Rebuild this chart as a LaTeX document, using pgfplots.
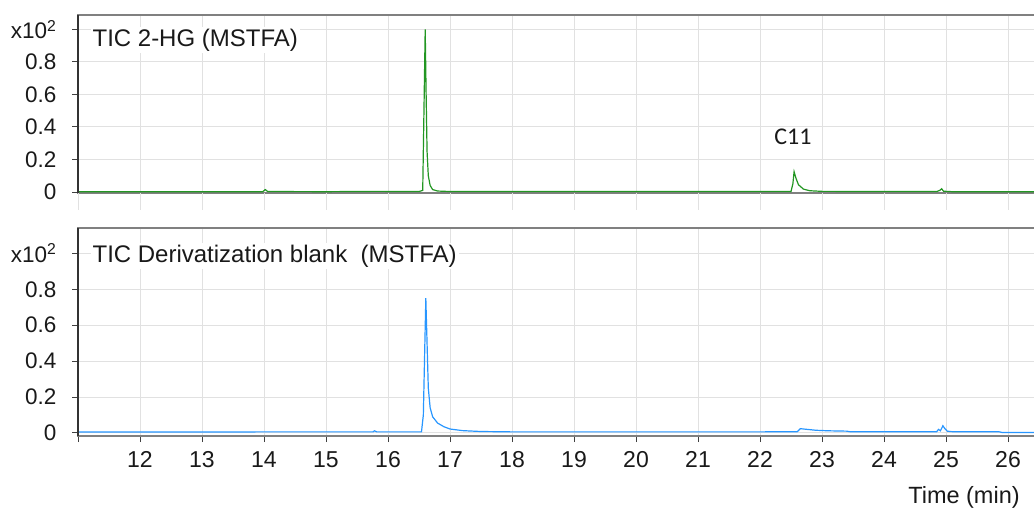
\documentclass[border=0pt]{standalone}
\usepackage{pgfplots}
\pgfplotsset{compat=1.18}
\usepackage{fontspec}
\setmainfont{Liberation Sans}
\newfontfamily\calib{Carlito}
\definecolor{tgreen}{RGB}{34,150,34}
\definecolor{tblue}{RGB}{40,150,255}
\definecolor{gridc}{RGB}{225,225,225}
\definecolor{framec}{RGB}{128,128,128}

\pgfplotstableread{
x y
11.00 0.002
12.00 0.002
13.00 0.002
13.98 0.002
14.02 0.015
14.06 0.003
15.00 0.002
15.80 0.004
16.50 0.003
16.56 0.010
16.58 0.500
16.60 1.000
16.615 0.600
16.63 0.250
16.65 0.100
16.68 0.040
16.72 0.015
16.80 0.006
17.00 0.003
18.00 0.003
20.00 0.003
22.00 0.003
22.50 0.003
22.53 0.050
22.55 0.125
22.58 0.085
22.62 0.045
22.70 0.018
22.80 0.008
23.00 0.004
24.00 0.003
24.85 0.003
24.90 0.010
24.93 0.020
24.96 0.005
25.10 0.002
26.50 0.002
}\greendata

\pgfplotstableread{
x y
11.00 0.005
12.00 0.005
13.00 0.005
14.00 0.006
15.00 0.006
15.76 0.006
15.78 0.012
15.82 0.006
16.54 0.006
16.57 0.100
16.61 0.750
16.63 0.500
16.65 0.250
16.68 0.140
16.72 0.090
16.80 0.055
16.90 0.035
17.00 0.022
17.20 0.013
17.50 0.008
18.00 0.006
20.00 0.006
22.00 0.006
22.60 0.007
22.65 0.024
22.70 0.022
22.90 0.015
23.10 0.012
23.40 0.010
23.45 0.007
24.85 0.007
24.88 0.020
24.91 0.012
24.95 0.040
24.98 0.025
25.02 0.010
25.10 0.007
25.85 0.007
25.90 0.003
26.50 0.003
}\bluedata

\begin{document}
\begin{tikzpicture}
\clip (0bp,0bp) rectangle (1034bp,-509bp);
\pgfplotsset{
  every axis/.style={
    scale only axis,
    width=961bp,
    xmin=11, xmax=26.5,
    xtick={11,...,26},
    grid=major,
    major grid style={draw=gridc, line width=1bp},
    axis line style={draw=framec, line width=2bp},
    tick align=outside,
    xtick pos=left, ytick pos=left,
    ytick={0,0.2,0.4,0.6,0.8,1.0},
    yticklabels={0,0.2,0.4,0.6,0.8,x10\textsuperscript{2}},
    yticklabel style={font=\fontsize{22.5bp}{24bp}\selectfont, text=black!90, xshift=-12bp},
    ytick style={draw=black!75, line width=1bp},
    major tick length=6bp,
    clip=false,
  }
}
% top panel
\begin{axis}[
  at={(78bp,-15bp)}, anchor=north west,
  height=177.5bp,
  ymin=-0.003, ymax=1.089,
  xticklabels={},
  xtick style={draw=none},
]
\pgfplotsinvokeforeach{11,...,26}{\draw[gridc, line width=1bp] (axis cs:#1,-0.003) -- ++(0bp,-17bp);}
\addplot[tgreen, line width=1.2bp] table {\greendata};
\draw[black!80, line width=2bp] (rel axis cs:0,0) -- (rel axis cs:0,1);
\node[anchor=west, fill=white, inner sep=2bp, font=\fontsize{24bp}{26bp}\selectfont, text=black!90] at (axis cs:11.20,0.935) {TIC 2-HG (MSTFA)};
\node[font=\calib\fontsize{24bp}{26bp}\selectfont, text=black!90] at (axis cs:22.53,0.34) {C11};
\end{axis}
% bottom panel
\begin{axis}[
  at={(78bp,-228bp)}, anchor=north west,
  height=208bp,
  ymin=-0.017, ymax=1.141,
  xticklabels={,12,13,14,15,16,17,18,19,20,21,22,23,24,25,26},
  xticklabel style={font=\fontsize{23bp}{25bp}\selectfont, text=black!90, yshift=-6bp},
  xtick style={draw=black!75, line width=1bp},
]
\addplot[tblue, line width=1.2bp] table {\bluedata};
\draw[black!80, line width=2bp] (rel axis cs:0,0) -- (rel axis cs:0,1);
\node[anchor=west, fill=white, inner sep=2bp, font=\fontsize{24bp}{26bp}\selectfont, text=black!90] at (axis cs:11.20,0.985) {TIC Derivatization blank\ \ (MSTFA)};
\end{axis}
\node[font=\fontsize{23.5bp}{25bp}\selectfont, text=black!90] at (964bp,-497bp) {Time (min)};
\end{tikzpicture}
\end{document}
